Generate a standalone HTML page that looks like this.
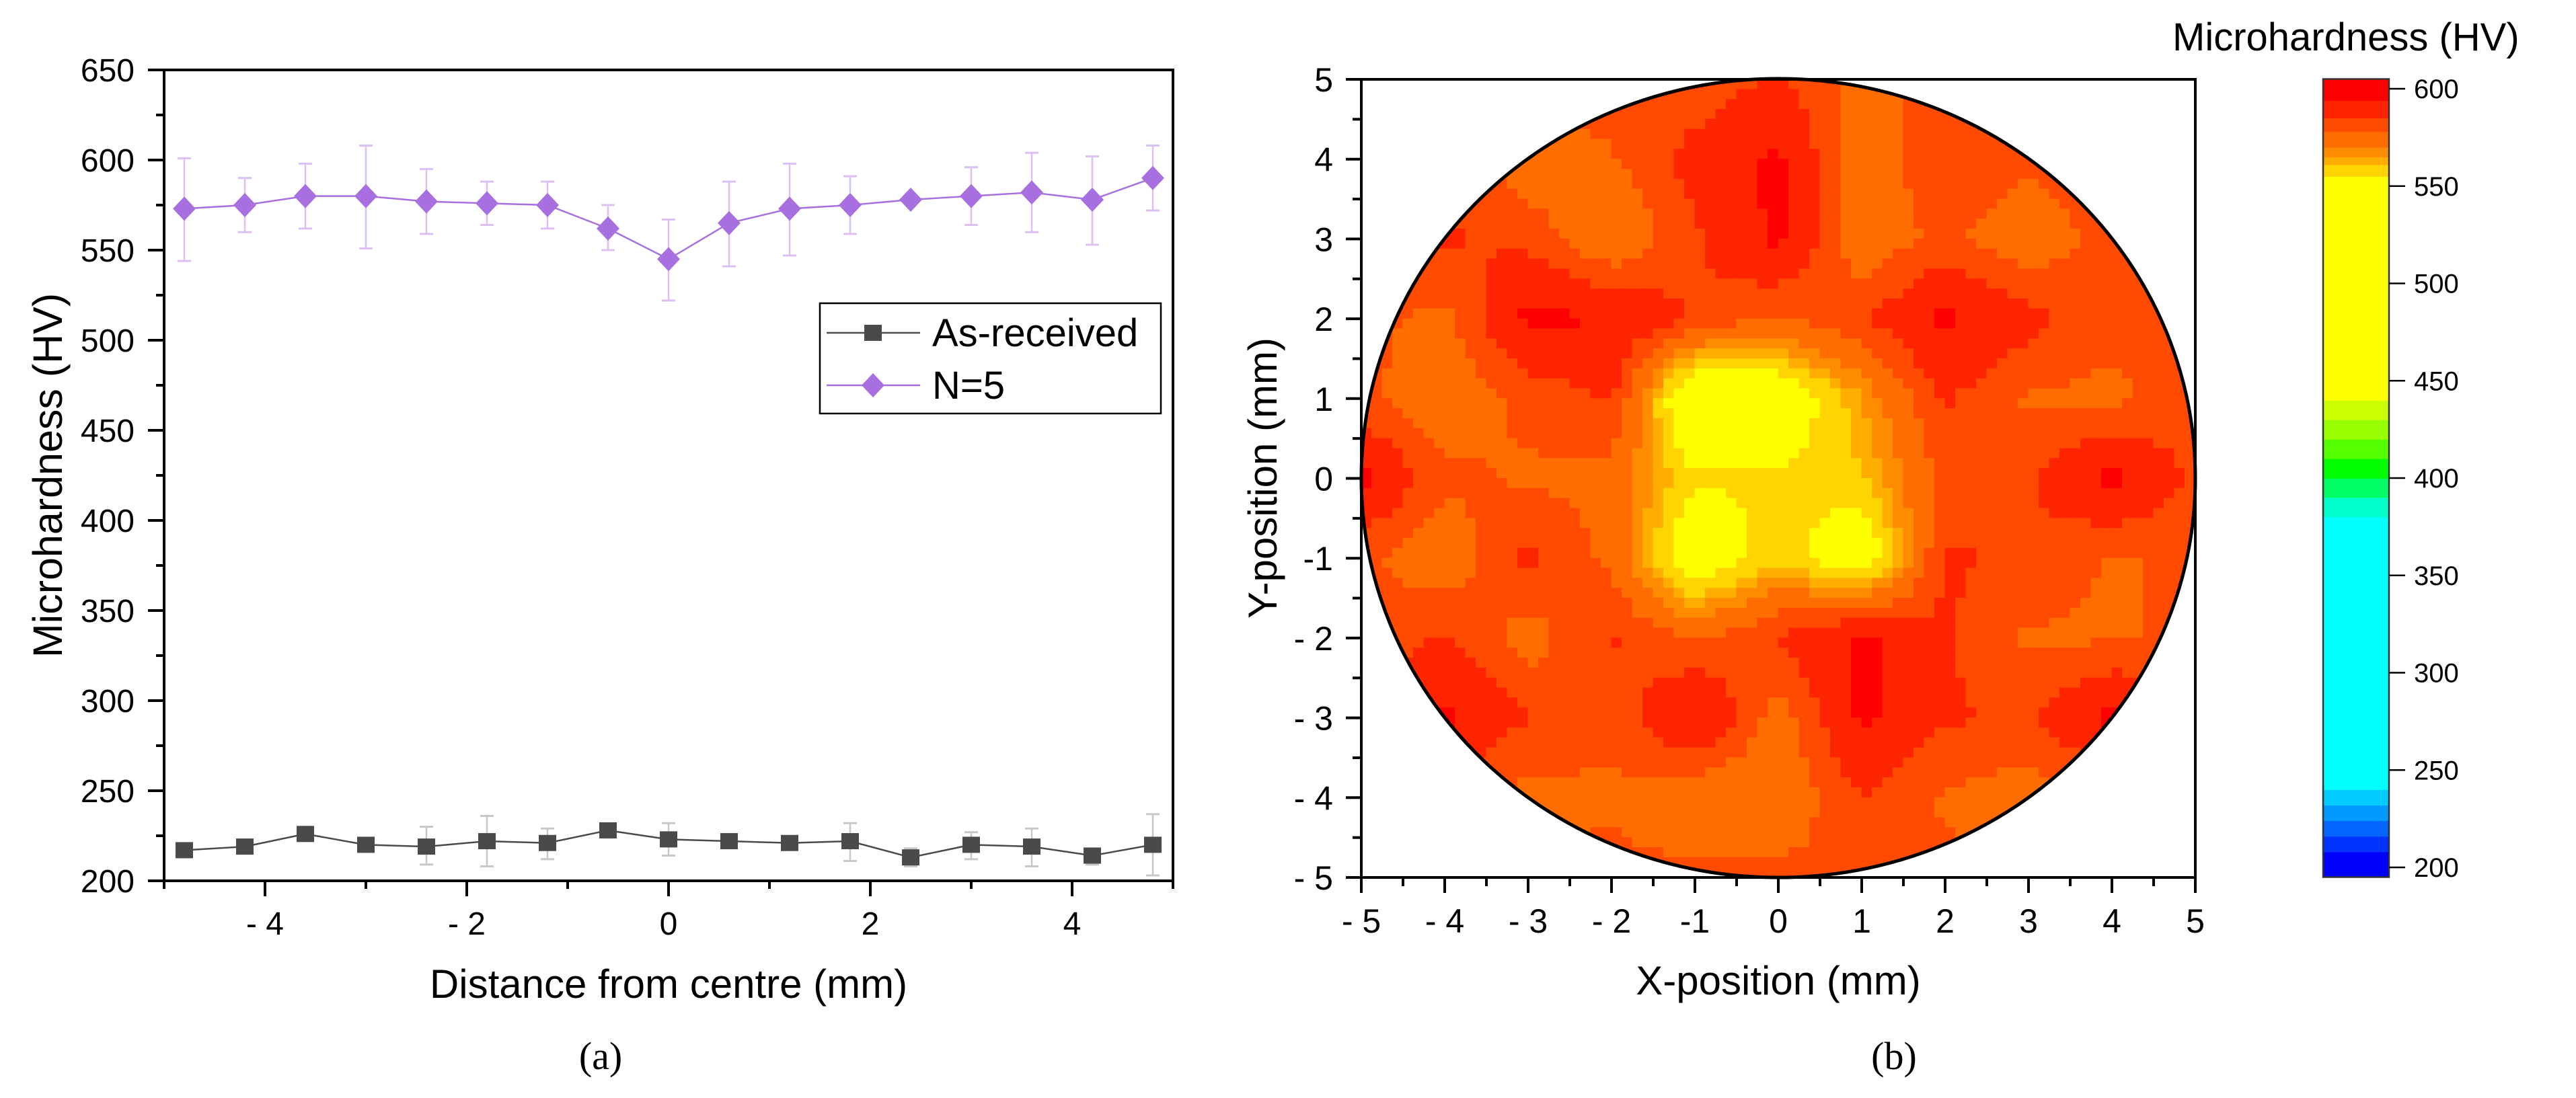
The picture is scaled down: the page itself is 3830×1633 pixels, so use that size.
<!DOCTYPE html>
<html><head><meta charset="utf-8">
<style>
html,body{margin:0;padding:0;background:#fff;}
svg{display:block;font-family:"Liberation Sans",Arial,sans-serif;}
</style></head>
<body>
<svg id="fig" width="3830" height="1633" viewBox="0 0 3830 1633" xmlns="http://www.w3.org/2000/svg">
<defs>
<clipPath id="circ"><ellipse cx="2644" cy="711" rx="620" ry="594"/></clipPath>
</defs>
<g id="left"></g>
<g id="right"></g>
<g id="cbar"></g>
<text x="893" y="1590" font-family="Liberation Serif,serif" font-size="58" text-anchor="middle">(a)</text>
<text x="2816" y="1590" font-family="Liberation Serif,serif" font-size="58" text-anchor="middle">(b)</text>
</svg>
<script>
// ---- Panel (a) data ----
const xPos = [-4.8,-4.2,-3.6,-3.0,-2.4,-1.8,-1.2,-0.6,0,0.6,1.2,1.8,2.4,3.0,3.6,4.2,4.8];
const n5Vals = [573,575,580,580,577,576,575,562,545,565,573,575,578,580,582,578,590];
const n5Up   = [601,590,598,608,595,588,588,575,567,588,598,591,580,596,604,602,608];
const n5Lo   = [544,560,562,551,559,564,562,550,522,541,547,559,576,564,560,553,572];
const arVals = [217,219,226,220,219,222,221,228,223,222,221,222,213,220,219,214,220];
const arUp   = [219,221,228,222,230,236,229,230,232,224,223,232,218,227,229,218,237];
const arLo   = [215,217,224,218,209,208,212,226,214,220,219,211,208,212,208,209,203];
const yTicksA = [200,250,300,350,400,450,500,550,600,650];
const xTicksA = [-4,-2,0,2,4];
const xTickLabelsA = ["- 4","- 2","0","2","4"];
// ---- Panel (b) data: hardness grid, rows y=5..-5, cols x=-5..5 ----
const gridX = [-5,-4,-3,-2,-1,0,1,2,3,4,5];
const gridY = [5,4,3,2,1,0,-1,-2,-3,-4,-5];
const hvGrid = [
 [583,583,583,583,580,586,575,580,583,583,583],
 [583,583,572,577,588,596,572,584,580,583,583],
 [583,586,583,570,584,596,572,580,572,582,583],
 [580,576,596,594,584,577,584,596,588,580,583],
 [580,572,580,586,540,545,565,586,577,576,583],
 [596,580,577,575,556,556,560,580,584,596,583],
 [580,572,587,576,545,560,545,586,584,577,580],
 [580,586,574,586,577,586,596,586,577,577,580],
 [583,596,585,580,596,574,596,586,584,596,583],
 [580,580,575,577,571,571,585,577,574,580,580],
 [580,580,580,580,580,580,580,580,580,580,580]
];
const bandLo = [594,585,578,570,565,561,555,440,430,420,410,400,390,380,240,232,224,216,208,0];
const bandColors = ["#ff0000","#ff2400","#ff4a00","#ff6c00","#ff8c00","#ffae00","#ffd400","#ffff00","#ccff00","#99ff00","#55ff00","#00ff00","#00ff66","#00ffcc","#00ffff","#00ccff","#0099ff","#0066ff","#0033ff","#0000ff"];
const cbTicks = [200,250,300,350,400,450,500,550,600];
const xTicksB = [-5,-4,-3,-2,-1,0,1,2,3,4,5];
const tickLabelsB = ["- 5","- 4","- 3","- 2","-1","0","1","2","3","4","5"];

const NS="http://www.w3.org/2000/svg";
function mk(parent,tag,attrs,text){const e=document.createElementNS(NS,tag);for(const k in attrs)e.setAttribute(k,attrs[k]);if(text!==undefined)e.textContent=text;parent.appendChild(e);return e;}

// ---------- Panel (a) ----------
const L=document.getElementById('left');
const ax=v=>244+(v+5)*150;
const ay=v=>104+(650-v)*(1206/450);
let e;
e=mk(L,'rect',{x:244,y:104,width:1500,height:1206,fill:'none',stroke:'#000','stroke-width':4});


for(let v=200;v<=650;v+=25){
  const major=(v%50===0);
  e=mk(L,'line',{x1:major?220:232,x2:244,y1:ay(v),y2:ay(v),stroke:'#000','stroke-width':4});
  
  
}
yTicksA.forEach(v=>{
  e=mk(L,'text',{x:200,y:ay(v)+17,'font-size':48,'text-anchor':'end'},String(v));
  
  
});
for(let v=-5;v<=5;v+=1){
  const major=(v%2===0);
  e=mk(L,'line',{x1:ax(v),x2:ax(v),y1:1310,y2:major?1333:1322,stroke:'#000','stroke-width':4});
  
  
}
xTicksA.forEach((v,i)=>{
  e=mk(L,'text',{x:ax(v),y:1390,'font-size':48,'text-anchor':'middle'},xTickLabelsA[i]);
  
  
});
e=mk(L,'text',{x:994,y:1484,'font-size':60,'text-anchor':'middle'},'Distance from centre (mm)');


e=mk(L,'text',{x:92,y:707,'font-size':61,'text-anchor':'middle',transform:'rotate(-90 92 707)'},'Microhardness (HV)');



function series(vals,up,lo,color,errColor,name,marker){
  const g=mk(L,'g',{});
  
  
  xPos.forEach((x,i)=>{
    const X=ax(x);
    e=mk(g,'line',{x1:X,x2:X,y1:ay(up[i]),y2:ay(lo[i]),stroke:errColor,'stroke-width':2.5});
    
    
    [up[i],lo[i]].forEach(c=>{
      e=mk(g,'line',{x1:X-10,x2:X+10,y1:ay(c),y2:ay(c),stroke:errColor,'stroke-width':3});
      
      
    });
  });
  const pts=xPos.map((x,i)=>ax(x)+','+ay(vals[i])).join(' ');
  e=mk(g,'polyline',{points:pts,fill:'none',stroke:color,'stroke-width':2.5});
  
  
  xPos.forEach((x,i)=>{
    const X=ax(x),Y=ay(vals[i]);
    if(marker==='d'){
      e=mk(g,'polygon',{points:`${X},${Y-18} ${X+17},${Y} ${X},${Y+18} ${X-17},${Y}`,fill:color});
    }else{
      e=mk(g,'rect',{x:X-13,y:Y-12,width:26,height:24,fill:color});
    }
    
    
  });
}
series(n5Vals,n5Up,n5Lo,'#a86fe0','#dcc0f4','series-n5','d');
series(arVals,arUp,arLo,'#4a4a4a','#c8c8c8','series-as-received','s');

// legend
const lg=mk(L,'g',{});


mk(lg,'rect',{x:1219,y:451,width:507,height:164,fill:'#fff',stroke:'#000','stroke-width':2.5});
e=mk(lg,'line',{x1:1229,x2:1368,y1:495,y2:495,stroke:'#4a4a4a','stroke-width':2.5});


e=mk(lg,'rect',{x:1285,y:483,width:26,height:24,fill:'#4a4a4a'});


e=mk(lg,'text',{x:1386,y:515,'font-size':58},'As-received');


e=mk(lg,'line',{x1:1229,x2:1368,y1:573,y2:573,stroke:'#a86fe0','stroke-width':2.5});


e=mk(lg,'polygon',{points:'1298,555 1315,573 1298,591 1281,573',fill:'#a86fe0'});


e=mk(lg,'text',{x:1386,y:593,'font-size':58},'N=5');



// ---------- Panel (b) ----------
const R=document.getElementById('right');
const bx=v=>2024+(v+5)*124;
const by=v=>1305-(v+5)*118.7;
function colorFor(v){for(let i=0;i<bandLo.length;i++){if(v>=bandLo[i])return bandColors[i];}return bandColors[bandColors.length-1];}
function sample(x,y){
  const fx=(x-gridX[0]);const fy=(gridY[0]-y);
  let i0=Math.min(Math.floor(fx),gridX.length-2), j0=Math.min(Math.floor(fy),gridY.length-2);
  i0=Math.max(0,i0); j0=Math.max(0,j0);
  const tx=fx-i0, ty=fy-j0;
  const a=hvGrid[j0][i0],b=hvGrid[j0][i0+1],c=hvGrid[j0+1][i0],d=hvGrid[j0+1][i0+1];
  return a*(1-tx)*(1-ty)+b*tx*(1-ty)+c*(1-tx)*ty+d*tx*ty;
}
const mapG=mk(R,'g',{'clip-path':'url(#circ)'});


const step=0.125;
for(let y=5;y>-5;y-=step){
  for(let x=-5;x<5;x+=step){
    const v=sample(x+step/2,y-step/2);
    const c=mk(mapG,'rect',{x:bx(x)-0.5,y:by(y)-0.5,width:124*step+1,height:118.7*step+1,fill:colorFor(v)});
    
    
  }
}
e=mk(R,'ellipse',{cx:2644,cy:711,rx:620,ry:594,fill:'none',stroke:'#000','stroke-width':5});


e=mk(R,'rect',{x:2024,y:118,width:1240,height:1187,fill:'none',stroke:'#000','stroke-width':4});


for(let v=-5;v<=5.001;v+=0.5){
  const major=Math.abs(v-Math.round(v))<1e-6;
  e=mk(R,'line',{x1:bx(v),x2:bx(v),y1:1305,y2:major?1328:1318,stroke:'#000','stroke-width':4});
  
  
  e=mk(R,'line',{x1:major?2001:2011,x2:2024,y1:by(v),y2:by(v),stroke:'#000','stroke-width':4});
  
  
}
xTicksB.forEach((v,i)=>{
  e=mk(R,'text',{x:bx(v),y:1387,'font-size':50,'text-anchor':'middle'},tickLabelsB[i]);
  
  
  e=mk(R,'text',{x:1982,y:by(v)+18,'font-size':50,'text-anchor':'end'},tickLabelsB[i]);
  
  
});
e=mk(R,'text',{x:2644,y:1479,'font-size':60,'text-anchor':'middle'},'X-position (mm)');


e=mk(R,'text',{x:1898,y:711,'font-size':60,'text-anchor':'middle',transform:'rotate(-90 1898 711)'},'Y-position (mm)');



// ---------- Colorbar ----------
const C=document.getElementById('cbar');
const cy=v=>132+(600-v)*2.895;
const cbTop=605, cbBot=195;
for(let v=cbBot; v<cbTop; v+=1){
  e=mk(C,'rect',{x:3454,y:cy(v+1),width:98,height:2.895+0.6,fill:colorFor(v+0.5)});
  
  
}
e=mk(C,'rect',{x:3454,y:cy(cbTop),width:98,height:cy(cbBot)-cy(cbTop),fill:'none',stroke:'#333','stroke-width':2.5});


cbTicks.forEach(v=>{
  e=mk(C,'line',{x1:3552,x2:3576,y1:cy(v),y2:cy(v),stroke:'#000','stroke-width':2.5});
  
  
  e=mk(C,'text',{x:3589,y:cy(v)+14,'font-size':40},String(v));
  
  
});
e=mk(C,'text',{x:3230,y:75,'font-size':58},'Microhardness (HV)');


</script>
</body></html>
